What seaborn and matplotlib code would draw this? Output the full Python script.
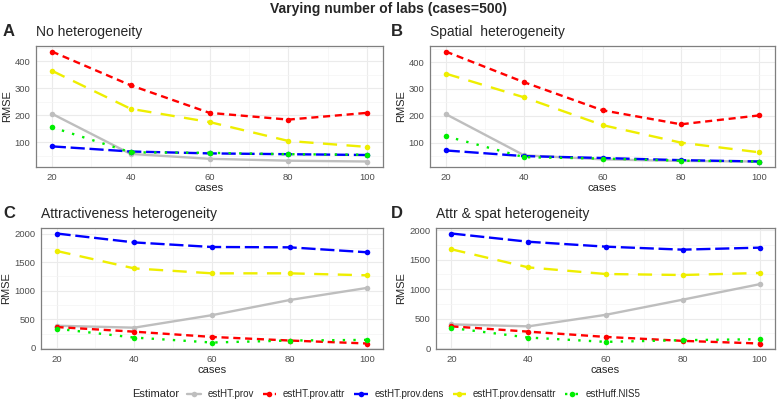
import numpy as np
import pandas as pd
import seaborn as sb
import matplotlib.pyplot as plt
from matplotlib.ticker import MultipleLocator

cases = [20, 40, 60, 80, 100]
estimators = ['estHT.prov', 'estHT.prov.attr', 'estHT.prov.dens',
              'estHT.prov.densattr', 'estHuff.NIS5']

# RMSE per estimator, one dict per panel
rmse_none = {
    'estHT.prov':          [206, 57, 39, 32, 29],
    'estHT.prov.attr':     [436, 311, 209, 184, 209],
    'estHT.prov.dens':     [85, 66, 59, 56, 53],
    'estHT.prov.densattr': [365, 224, 175, 105, 83],
    'estHuff.NIS5':        [156, 63, 61, 56, 54],
}
rmse_spat = {
    'estHT.prov':          [207, 54, 39, 33, 31],
    'estHT.prov.attr':     [439, 325, 221, 169, 202],
    'estHT.prov.dens':     [72, 51, 44, 36, 31],
    'estHT.prov.densattr': [357, 269, 166, 101, 65],
    'estHuff.NIS5':        [125, 47, 42, 34, 31],
}
rmse_attr = {
    'estHT.prov':          [386, 352, 571, 836, 1049],
    'estHT.prov.attr':     [363, 282, 190, 127, 75],
    'estHT.prov.dens':     [2000, 1844, 1764, 1758, 1671],
    'estHT.prov.densattr': [1695, 1389, 1303, 1303, 1268],
    'estHuff.NIS5':        [334, 179, 92, 127, 138],
}
rmse_both = {
    'estHT.prov':          [402, 369, 564, 821, 1084],
    'estHT.prov.attr':     [369, 279, 190, 123, 78],
    'estHT.prov.dens':     [1944, 1804, 1721, 1670, 1704],
    'estHT.prov.densattr': [1676, 1369, 1257, 1240, 1274],
    'estHuff.NIS5':        [341, 179, 106, 134, 151],
}

panels = [
    ('A', 'No heterogeneity', rmse_none, 100),
    ('B', 'Spatial  heterogeneity', rmse_spat, 100),
    ('C', 'Attractiveness heterogeneity', rmse_attr, 500),
    ('D', 'Attr & spat heterogeneity', rmse_both, 500),
]

palette = {
    'estHT.prov': '#BEBEBE',
    'estHT.prov.attr': '#FF0000',
    'estHT.prov.dens': '#0000FF',
    'estHT.prov.densattr': '#EEEE00',
    'estHuff.NIS5': '#00EE00',
}
dashes = {
    'estHT.prov': '',
    'estHT.prov.attr': (3, 2),
    'estHT.prov.dens': (6, 2),
    'estHT.prov.densattr': (6, 4),
    'estHuff.NIS5': (1, 3.5),
}

sb.set_style('white')
plt.rcParams['font.family'] = ['Liberation Sans', 'DejaVu Sans']

W, H = 778, 405
fig = plt.figure(figsize=(W / 100, H / 100), dpi=100)

# axes boxes in pixels: left, top, right, bottom
boxes = [(36, 46, 383, 167), (430, 46, 775, 167),
         (41, 228, 383, 349), (436, 228, 775, 349)]

for (letter, title, data, step), (l, t, r, b) in zip(panels, boxes):
    ax = fig.add_axes([l / W, 1 - b / H, (r - l) / W, (b - t) / H])
    df = pd.DataFrame([
        {'cases': c, 'RMSE': v, 'Estimator': e}
        for e in estimators for c, v in zip(cases, data[e])
    ])
    sb.lineplot(data=df, x='cases', y='RMSE', hue='Estimator', style='Estimator',
                hue_order=estimators, style_order=estimators,
                palette=palette, dashes=dashes, markers={e: 'o' for e in estimators},
                markersize=4, markeredgewidth=0, linewidth=1.7, ax=ax, legend=False)
    ax.set_xticks(cases)
    ax.xaxis.set_minor_locator(MultipleLocator(10))
    ax.yaxis.set_major_locator(MultipleLocator(step))
    ax.yaxis.set_minor_locator(MultipleLocator(step / 2))
    ax.grid(True, which='major', color='#EBEBEB', lw=0.8)
    ax.grid(True, which='minor', color='#F4F4F4', lw=0.5)
    ax.set_axisbelow(True)
    for s in ax.spines.values():
        s.set_color('#7F7F7F')
        s.set_linewidth(0.9)
    ax.tick_params(which='major', length=2.5, width=0.6, color='#555555',
                   labelsize=6.8, labelcolor='#4D4D4D', pad=1.5)
    ax.tick_params(which='minor', length=0)
    ax.set_xlabel('cases', fontsize=8, labelpad=1)
    ax.set_ylabel('RMSE', fontsize=8, labelpad=2)
    # ggplot-like 5% expansion
    lo, hi = df['RMSE'].min(), df['RMSE'].max()
    pad = (hi - lo) * 0.05
    ax.set_ylim(lo - pad, hi + pad)
    ax.text(0, 1.06, title, transform=ax.transAxes, fontsize=10, va='bottom', ha='left')
    fig.text(3 / W if letter in 'AC' else 391 / W, 1 - (t - 15) / H, letter,
             fontsize=12, fontweight='bold', va='center', ha='left')

fig.text(0.5, 1 - 9 / H, 'Varying number of labs (cases=500)', fontsize=10,
         fontweight='bold', ha='center', va='center')

handles = [plt.Line2D([], [], color=palette[e], lw=1.7,
                      dashes=dashes[e] if dashes[e] else (None, None),
                      marker='o', markersize=4, markeredgewidth=0) for e in estimators]
fig.text(132 / W, 1 - 394 / H, 'Estimator', fontsize=8, va='center', ha='left')
fig.legend(handles, estimators, loc='center left', bbox_to_anchor=(187 / W, 1 - 394 / H),
           ncol=5, frameon=False, fontsize=7, handlelength=1.4, numpoints=1,
           columnspacing=0.9, handletextpad=0.7, borderpad=0, borderaxespad=0)

fig.savefig('out.png', dpi=100)
